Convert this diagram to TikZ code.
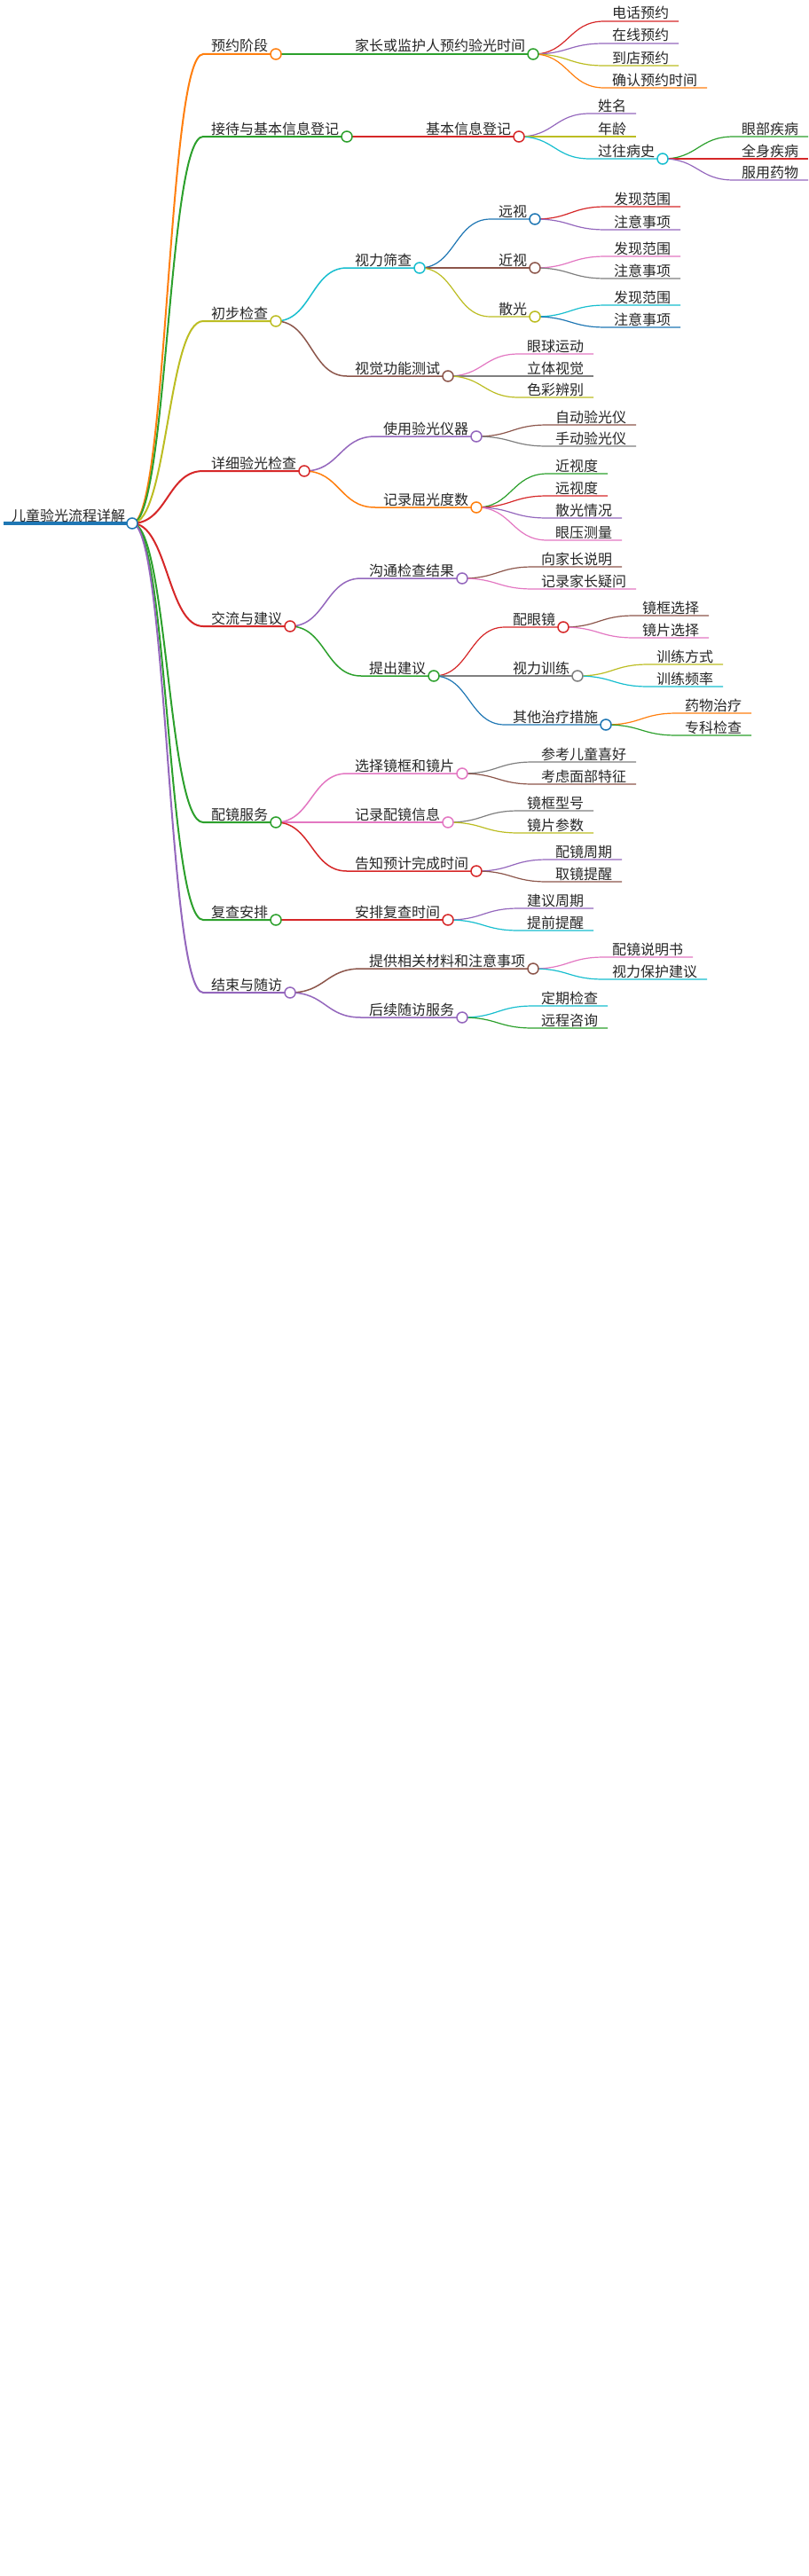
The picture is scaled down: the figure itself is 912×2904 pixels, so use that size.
\documentclass[tikz,border=0pt]{standalone}
\usepackage{fontspec}
\newfontfamily\cjk{Noto Sans CJK SC}
\pgfdeclarelayer{bg}
\pgfdeclarelayer{paper}
\pgfsetlayers{paper,bg,main}
\definecolor{cblue}{HTML}{1F77B4}
\definecolor{corange}{HTML}{FF7F0E}
\definecolor{cgreen}{HTML}{2CA02C}
\definecolor{cred}{HTML}{D62728}
\definecolor{cpurple}{HTML}{9467BD}
\definecolor{cbrown}{HTML}{8C564B}
\definecolor{cpink}{HTML}{E377C2}
\definecolor{cgray}{HTML}{7F7F7F}
\definecolor{colive}{HTML}{BCBD22}
\definecolor{ccyan}{HTML}{17BECF}
\tikzset{
  txt/.style={anchor=base west, inner sep=0pt, font=\cjk\fontsize{16}{19}\selectfont, text=black!85},
  dot/.style={circle, minimum size=12pt, inner sep=0pt, line width=1.5pt, fill=white},
}
% #1 name, #2 parent, #3 colour, #4 line width, #5 line start x, #6 circle x, #7 y, #8 text
\newcommand\mmInner[8]{%
  \coordinate (#1-s) at (#5,#7);
  \node[dot, draw=#3] (#1) at (#6,#7) {};
  \node[txt] (#1-t) at ({#5+9},{#7-3}) {#8};
  \begin{pgfonlayer}{bg}
  \draw[#3, line width=#4] (#2.center) .. controls +(40,0) and +(-40,0) .. (#1-s) -- (#1.center);
  \end{pgfonlayer}
}
% #1 name, #2 parent, #3 colour, #4 line width, #5 line start x, #6 line end x, #7 y, #8 text
\newcommand\mmLeaf[8]{%
  \coordinate (#1-s) at (#5,#7);
  \coordinate (#1-e) at (#6,#7);
  \node[txt] (#1-t) at ({#5+9},{#7-3}) {#8};
  \begin{pgfonlayer}{bg}
  \draw[#3, line width=#4] (#2.center) .. controls +(40,0) and +(-40,0) .. (#1-s) -- (#1-e);
  \end{pgfonlayer}
}
\begin{document}
\begin{tikzpicture}[x=1pt, y=-1pt]
\begin{pgfonlayer}{paper}
\fill[white] (0,0) rectangle (912,2904);
\end{pgfonlayer}
\useasboundingbox (0,0) rectangle (912,2904);
% root
\coordinate (root-s) at (4,590);
\node[dot, draw=cblue] (root) at (149,590) {};
\node[txt] (root-t) at (13,587) {儿童验光流程详解};
\begin{pgfonlayer}{bg}
\draw[cblue, line width=3.5pt] (root-s) -- (root.center);
\end{pgfonlayer}
% level 1
\mmInner{A}{root}{corange}{2pt}{229}{311}{61}{预约阶段}
\mmInner{B}{root}{cgreen}{2pt}{229}{391}{154}{接待与基本信息登记}
\mmInner{C}{root}{colive}{2pt}{229}{311}{362}{初步检查}
\mmInner{D}{root}{cred}{2pt}{229}{343}{531}{详细验光检查}
\mmInner{E}{root}{cred}{2pt}{229}{327}{706}{交流与建议}
\mmInner{F}{root}{cgreen}{2pt}{229}{311}{927}{配镜服务}
\mmInner{G}{root}{cgreen}{2pt}{229}{311}{1037}{复查安排}
\mmInner{H}{root}{cpurple}{2pt}{229}{327}{1119}{结束与随访}
% level 2
\mmInner{A1}{A}{cgreen}{1.5pt}{391}{601}{61}{家长或监护人预约验光时间}
\mmInner{B1}{B}{cred}{1.5pt}{471}{585}{154}{基本信息登记}
\mmInner{C1}{C}{ccyan}{1.5pt}{391}{473}{302}{视力筛查}
\mmInner{C2}{C}{cbrown}{1.5pt}{391}{505}{424}{视觉功能测试}
\mmInner{D1}{D}{cpurple}{1.5pt}{423}{537}{492}{使用验光仪器}
\mmInner{D2}{D}{corange}{1.5pt}{423}{537}{572}{记录屈光度数}
\mmInner{E1}{E}{cpurple}{1.5pt}{407}{521}{652}{沟通检查结果}
\mmInner{E2}{E}{cgreen}{1.5pt}{407}{489}{762}{提出建议}
\mmInner{F1}{F}{cpink}{1.5pt}{391}{521}{872}{选择镜框和镜片}
\mmInner{F2}{F}{cpink}{1.5pt}{391}{505}{927}{记录配镜信息}
\mmInner{F3}{F}{cred}{1.5pt}{391}{537}{982}{告知预计完成时间}
\mmInner{G1}{G}{cred}{1.5pt}{391}{505}{1037}{安排复查时间}
\mmInner{H1}{H}{cbrown}{1.5pt}{407}{601}{1092}{提供相关材料和注意事项}
\mmInner{H2}{H}{cpurple}{1.5pt}{407}{521}{1147}{后续随访服务}
% level 3
\mmLeaf{A1a}{A1}{cred}{1.2pt}{681}{765}{24}{电话预约}
\mmLeaf{A1b}{A1}{cpurple}{1.2pt}{681}{765}{49}{在线预约}
\mmLeaf{A1c}{A1}{colive}{1.2pt}{681}{765}{74}{到店预约}
\mmLeaf{A1d}{A1}{corange}{1.2pt}{681}{797}{99}{确认预约时间}
\mmLeaf{B1a}{B1}{cpurple}{1.2pt}{665}{717}{128}{姓名}
\mmLeaf{B1b}{B1}{colive}{1.2pt}{665}{717}{154}{年龄}
\mmInner{B1c}{B1}{ccyan}{1.2pt}{665}{747}{179}{过往病史}
\mmInner{C1a}{C1}{cblue}{1.2pt}{553}{603}{247}{远视}
\mmInner{C1b}{C1}{cbrown}{1.2pt}{553}{603}{302}{近视}
\mmInner{C1c}{C1}{colive}{1.2pt}{553}{603}{357}{散光}
\mmLeaf{C2a}{C2}{cpink}{1.2pt}{585}{669}{399}{眼球运动}
\mmLeaf{C2b}{C2}{cgray}{1.2pt}{585}{669}{424}{立体视觉}
\mmLeaf{C2c}{C2}{colive}{1.2pt}{585}{669}{448}{色彩辨别}
\mmLeaf{D1a}{D1}{cbrown}{1.2pt}{617}{717}{479}{自动验光仪}
\mmLeaf{D1b}{D1}{cgray}{1.2pt}{617}{717}{503}{手动验光仪}
\mmLeaf{D2a}{D2}{cgreen}{1.2pt}{617}{685}{534}{近视度}
\mmLeaf{D2b}{D2}{cred}{1.2pt}{617}{685}{559}{远视度}
\mmLeaf{D2c}{D2}{cpurple}{1.2pt}{617}{701}{584}{散光情况}
\mmLeaf{D2d}{D2}{cpink}{1.2pt}{617}{701}{609}{眼压测量}
\mmLeaf{E1a}{E1}{cbrown}{1.2pt}{601}{701}{639}{向家长说明}
\mmLeaf{E1b}{E1}{cpink}{1.2pt}{601}{717}{664}{记录家长疑问}
\mmInner{E2a}{E2}{cred}{1.2pt}{569}{635}{707}{配眼镜}
\mmInner{E2b}{E2}{cgray}{1.2pt}{569}{651}{762}{视力训练}
\mmInner{E2c}{E2}{cblue}{1.2pt}{569}{683}{817}{其他治疗措施}
\mmLeaf{F1a}{F1}{cgray}{1.2pt}{601}{717}{859}{参考儿童喜好}
\mmLeaf{F1b}{F1}{cbrown}{1.2pt}{601}{717}{884}{考虑面部特征}
\mmLeaf{F2a}{F2}{cgray}{1.2pt}{585}{669}{914}{镜框型号}
\mmLeaf{F2b}{F2}{colive}{1.2pt}{585}{669}{939}{镜片参数}
\mmLeaf{F3a}{F3}{cpurple}{1.2pt}{617}{701}{969}{配镜周期}
\mmLeaf{F3b}{F3}{cbrown}{1.2pt}{617}{701}{994}{取镜提醒}
\mmLeaf{G1a}{G1}{cpurple}{1.2pt}{585}{669}{1024}{建议周期}
\mmLeaf{G1b}{G1}{ccyan}{1.2pt}{585}{669}{1049}{提前提醒}
\mmLeaf{H1a}{H1}{cpink}{1.2pt}{681}{781}{1079}{配镜说明书}
\mmLeaf{H1b}{H1}{ccyan}{1.2pt}{681}{797}{1104}{视力保护建议}
\mmLeaf{H2a}{H2}{ccyan}{1.2pt}{601}{685}{1134}{定期检查}
\mmLeaf{H2b}{H2}{cgreen}{1.2pt}{601}{685}{1159}{远程咨询}
% level 4
\mmLeaf{B1c1}{B1c}{cgreen}{1.2pt}{827}{911}{154}{眼部疾病}
\mmLeaf{B1c2}{B1c}{cred}{1.2pt}{827}{911}{179}{全身疾病}
\mmLeaf{B1c3}{B1c}{cpurple}{1.2pt}{827}{911}{203}{服用药物}
\mmLeaf{C1a1}{C1a}{cred}{1.2pt}{683}{767}{233}{发现范围}
\mmLeaf{C1a2}{C1a}{cpurple}{1.2pt}{683}{767}{259}{注意事项}
\mmLeaf{C1b1}{C1b}{cpink}{1.2pt}{683}{767}{289}{发现范围}
\mmLeaf{C1b2}{C1b}{cgray}{1.2pt}{683}{767}{314}{注意事项}
\mmLeaf{C1c1}{C1c}{ccyan}{1.2pt}{683}{767}{344}{发现范围}
\mmLeaf{C1c2}{C1c}{cblue}{1.2pt}{683}{767}{369}{注意事项}
\mmLeaf{E2a1}{E2a}{cbrown}{1.2pt}{715}{799}{694}{镜框选择}
\mmLeaf{E2a2}{E2a}{cpink}{1.2pt}{715}{799}{719}{镜片选择}
\mmLeaf{E2b1}{E2b}{colive}{1.2pt}{731}{815}{749}{训练方式}
\mmLeaf{E2b2}{E2b}{ccyan}{1.2pt}{731}{815}{774}{训练频率}
\mmLeaf{E2c1}{E2c}{corange}{1.2pt}{763}{847}{804}{药物治疗}
\mmLeaf{E2c2}{E2c}{cgreen}{1.2pt}{763}{847}{829}{专科检查}
\end{tikzpicture}
\end{document}
